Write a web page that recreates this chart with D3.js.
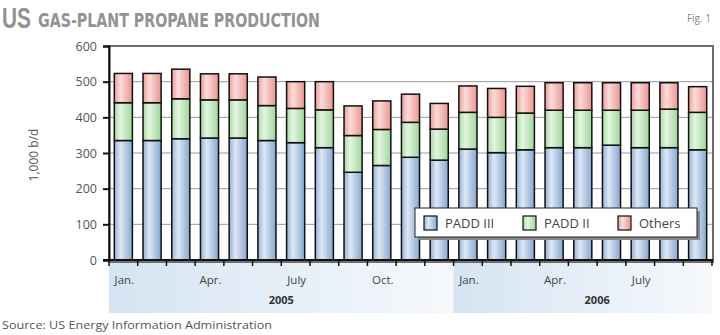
<!DOCTYPE html>
<html>
<head>
<meta charset="utf-8">
<script src="https://cdn.jsdelivr.net/npm/d3@7"></script>
<style>
  html, body { margin: 0; padding: 0; background: #fff; }
  svg { display: block; }
  text { font-family: "Open Sans", "Noto Sans", sans-serif; }
</style>
</head>
<body>
<svg id="chart" width="720" height="335"></svg>
<script>
// Monthly gas-plant propane production, 1,000 b/d
const months = ["Jan.","Feb.","Mar.","Apr.","May","June","July","Aug.","Sept.","Oct.","Nov.","Dec.",
                "Jan.","Feb.","Mar.","Apr.","May","June","July","Aug.","Sept."];
const years = [2005,2005,2005,2005,2005,2005,2005,2005,2005,2005,2005,2005,
               2006,2006,2006,2006,2006,2006,2006,2006,2006];
const labeledMonths = ["Jan.","Apr.","July","Oct."];
const padd3  = [335,335,340,342,342,335,329,315,246,265,288,280,311,301,309,315,315,322,315,315,309];
const padd2  = [106,106,112,107,107, 98, 96,106,103,101, 98, 87,103, 99,103,105,105, 98,105,108,105];
const others = [ 82, 82, 83, 73, 73, 80, 75, 79, 83, 80, 79, 72, 74, 81, 75, 77, 77, 77, 77, 74, 72];
const seriesNames = ["PADD III","PADD II","Others"];
const yTicks = [0,100,200,300,400,500,600];
const yearNames = [2005, 2006];

const svg = d3.select("#chart");
const plotL = 109, plotR = 712, plotT = 46, plotB = 260;

// gradients
const defs = svg.append("defs");
const palettes = {
  "PADD III": ["#93b2d8", "#dde8f4", "#86a7d0"],
  "PADD II":  ["#a6dca0", "#e4f5e1", "#9ed699"],
  "Others":   ["#ee9d98", "#fbdcd9", "#eb9590"]
};
seriesNames.forEach((name, i) => {
  const g = defs.append("linearGradient").attr("id", "grad" + i)
    .attr("x1", "0%").attr("x2", "100%").attr("y1", "0%").attr("y2", "0%");
  const c = palettes[name];
  g.append("stop").attr("offset", "0%").attr("stop-color", c[0]);
  g.append("stop").attr("offset", "35%").attr("stop-color", c[1]);
  g.append("stop").attr("offset", "100%").attr("stop-color", c[2]);
});
const yearGrad = defs.append("linearGradient").attr("id", "yearGrad")
  .attr("x1", "0%").attr("x2", "100%");
yearGrad.append("stop").attr("offset", "0%").attr("stop-color", "#d5e4f2");
yearGrad.append("stop").attr("offset", "100%").attr("stop-color", "#f6f9fc");

const x = d3.scaleBand().domain(d3.range(months.length)).range([plotL, plotR])
  .paddingInner(0.37).paddingOuter(0.185);
const y = d3.scaleLinear().domain([0, 600]).range([plotB, plotT]);
const step = x.step();
const edge = i => x(i) - step * x.paddingInner() / 2;

// title
svg.append("text").attr("x", 2).attr("y", 28).attr("fill", "#939393")
  .style("font-family", "'Liberation Sans Narrow', sans-serif").style("font-weight", "bold")
  .attr("font-size", 30).attr("textLength", 29).attr("lengthAdjust", "spacingAndGlyphs").text("US");
svg.append("text").attr("x", 38).attr("y", 27).attr("fill", "#939393")
  .style("font-family", "'DejaVu Sans Condensed', 'Liberation Sans Narrow', sans-serif").style("font-weight", "bold")
  .attr("font-size", 19).attr("textLength", 282).attr("lengthAdjust", "spacingAndGlyphs")
  .text("GAS-PLANT PROPANE PRODUCTION");
svg.append("text").attr("x", 711).attr("y", 22).attr("text-anchor", "end")
  .attr("font-size", 10).attr("fill", "#888").text("Fig. 1");

// year bands under the axis
const yearGroups = yearNames.map(yr => {
  const idx = d3.range(months.length).filter(i => years[i] === yr);
  return { yr, first: idx[0], last: idx[idx.length - 1] };
});
yearGroups.forEach(g => {
  const x0 = edge(g.first);
  const x1 = g.last === months.length - 1 ? plotR : edge(g.last + 1);
  svg.append("rect").attr("x", x0).attr("y", plotB + 1).attr("width", x1 - x0)
    .attr("height", 52).attr("fill", "url(#yearGrad)");
});
svg.append("text").attr("x", edge(6)).attr("y", 304).attr("text-anchor", "middle")
  .attr("font-size", 11).attr("font-weight", "bold").attr("fill", "#333").text(yearNames[0]);
svg.append("text").attr("x", edge(17)).attr("y", 304).attr("text-anchor", "middle")
  .attr("font-size", 11).attr("font-weight", "bold").attr("fill", "#333").text(yearNames[1]);

// frame
svg.append("rect").attr("x", plotL).attr("y", plotT).attr("width", plotR + 1 - plotL)
  .attr("height", plotB - plotT + 2).attr("fill", "none").attr("stroke", "#6e6e6e").attr("stroke-width", 2);

// gridlines
svg.append("g").selectAll("line").data(yTicks.filter(v => v > 0 && v < 600)).join("line")
  .attr("x1", plotL).attr("x2", plotR).attr("y1", d => y(d)).attr("y2", d => y(d))
  .attr("stroke", "#9a9a9a").attr("stroke-width", 1);

// bars
const table = months.map((m, i) => ({ i, "PADD III": padd3[i], "PADD II": padd2[i], "Others": others[i] }));
const stacked = d3.stack().keys(seriesNames)(table);
svg.append("g").selectAll("g").data(stacked).join("g")
  .attr("fill", (d, k) => "url(#grad" + k + ")")
  .selectAll("rect").data(d => d).join("rect")
  .attr("x", d => x(d.data.i)).attr("width", x.bandwidth())
  .attr("y", d => y(d[1])).attr("height", d => y(d[0]) - y(d[1]))
  .attr("stroke", "#111").attr("stroke-width", 1.5);

// y axis
const yAxis = svg.append("g").attr("transform", `translate(${plotL},0)`)
  .call(d3.axisLeft(y).tickValues(yTicks).tickSize(6).tickPadding(6));
yAxis.select(".domain").attr("stroke", "#111").attr("stroke-width", 2);
yAxis.selectAll(".tick line").attr("stroke", "#111").attr("stroke-width", 2);
yAxis.selectAll(".tick text").attr("font-size", 12.5).attr("fill", "#555")
  .style("font-family", "'Open Sans', sans-serif");
svg.append("text").attr("transform", "translate(38,155) rotate(-90)")
  .attr("text-anchor", "middle").attr("font-size", 12).attr("fill", "#555").text("1,000 b/d");

// x axis line and ticks at month boundaries
svg.append("line").attr("x1", plotL - 6).attr("x2", plotR + 1).attr("y1", plotB).attr("y2", plotB)
  .attr("stroke", "#111").attr("stroke-width", 2);
const boundaries = d3.range(months.length).map(edge).concat([plotR]);
svg.append("g").selectAll("line").data(boundaries).join("line")
  .attr("x1", d => d).attr("x2", d => d).attr("y1", plotB).attr("y2", plotB + 6)
  .attr("stroke", "#111").attr("stroke-width", 1.5);
svg.append("g").selectAll("text")
  .data(d3.range(months.length).filter(i => labeledMonths.includes(months[i])))
  .join("text")
  .attr("x", i => x(i) + x.bandwidth() / 2 + 1).attr("y", 284).attr("text-anchor", "middle")
  .attr("font-size", 11.5).attr("fill", "#444").text(i => months[i]);

// legend
const lg = svg.append("g");
lg.append("rect").attr("x", 418).attr("y", 211).attr("width", 282).attr("height", 29).attr("fill", "#888");
lg.append("rect").attr("x", 415).attr("y", 208).attr("width", 282).attr("height", 29)
  .attr("fill", "#fff").attr("stroke", "#222").attr("stroke-width", 1);
const legendX = [424, 523, 618];
seriesNames.forEach((name, k) => {
  lg.append("rect").attr("x", legendX[k]).attr("y", 216).attr("width", 13).attr("height", 14)
    .attr("fill", "url(#grad" + k + ")").attr("stroke", "#111").attr("stroke-width", 1.2);
  lg.append("text").attr("x", legendX[k] + 21).attr("y", 228).attr("font-size", 13)
    .attr("fill", "#444").text(name);
});

// source
svg.append("text").attr("x", 2).attr("y", 329).attr("font-size", 10).attr("fill", "#555")
  .attr("textLength", 270).attr("lengthAdjust", "spacingAndGlyphs")
  .text("Source: US Energy Information Administration");
</script>
</body>
</html>
